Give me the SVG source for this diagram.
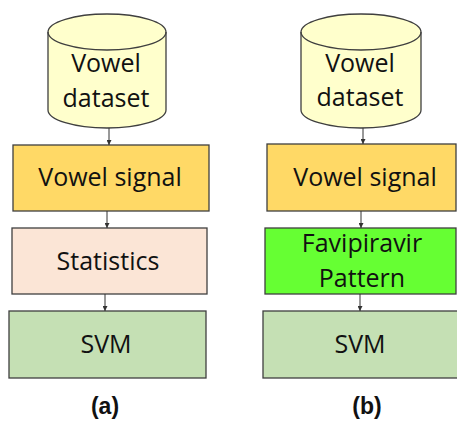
<svg xmlns="http://www.w3.org/2000/svg" width="457" height="421" viewBox="0 0 457 421">
<style>
.n{stroke:#3f3f3f;stroke-width:1.3}
.t{font-family:"Open Sans","Noto Sans",sans-serif;font-size:25px;fill:#111;text-anchor:middle}
.lab{font-family:"Liberation Sans",Arial,sans-serif;font-size:23px;font-weight:bold;fill:#111;text-anchor:middle}
.c{stroke:#333;stroke-width:1;fill:none;marker-end:url(#ah)}
</style>
<defs>
<marker id="ah" viewBox="0 0 6 6" refX="6" refY="3" markerWidth="5" markerHeight="5" orient="auto" markerUnits="userSpaceOnUse">
<path d="M0,0 L6,3 L0,6 Z" fill="#333"/>
</marker>
</defs>
<rect width="457" height="421" fill="#fff"/>
<g id="a-dataset">
<path class="n" fill="#FFFFCC" d="M48,32 L48,110 A59,18 0 0,0 166,110 L166,32 A59,18 0 0,0 48,32 Z"/>
<path class="n" fill="none" d="M48,32 A59,18 0 0,0 166,32"/>
<text class="t" x="106" y="72">Vowel</text>
<text class="t" x="106" y="107">dataset</text>
</g>
<g id="a-signal">
<rect class="n" x="13" y="145" width="196" height="66" fill="#FFD966"/>
<text class="t" x="110" y="186">Vowel signal</text>
</g>
<g id="a-stats">
<rect class="n" x="12" y="228" width="195" height="66" fill="#FBE5D6"/>
<text class="t" x="108" y="270">Statistics</text>
</g>
<g id="a-svm">
<rect class="n" x="9" y="311" width="197" height="67" fill="#C5E0B4"/>
<text class="t" x="106" y="353">SVM</text>
</g>
<g id="b-dataset">
<path class="n" fill="#FFFFCC" d="M301,32 L301,110 A60,18 0 0,0 421,110 L421,32 A60,18 0 0,0 301,32 Z"/>
<path class="n" fill="none" d="M301,32 A60,18 0 0,0 421,32"/>
<text class="t" x="360" y="72">Vowel</text>
<text class="t" x="360" y="106">dataset</text>
</g>
<g id="b-signal">
<rect class="n" x="267" y="144" width="189" height="67" fill="#FFD966"/>
<text class="t" x="365" y="186">Vowel signal</text>
</g>
<g id="b-pattern">
<rect class="n" x="265" y="228" width="191" height="66" fill="#66FF33"/>
<text class="t" x="362" y="252">Favipiravir</text>
<text class="t" x="362" y="287">Pattern</text>
</g>
<g id="b-svm">
<rect class="n" x="263" y="311" width="196" height="67" fill="#C5E0B4"/>
<text class="t" x="360" y="353">SVM</text>
</g>
<g id="connectors">
<line class="c" x1="109" y1="128" x2="109" y2="145"/>
<line class="c" x1="107" y1="211" x2="107" y2="228"/>
<line class="c" x1="105" y1="294" x2="105" y2="311"/>
<line class="c" x1="363" y1="128" x2="363" y2="144"/>
<line class="c" x1="361" y1="211" x2="361" y2="228"/>
<line class="c" x1="360" y1="294" x2="360" y2="311"/>
</g>
<text class="lab" x="105" y="414">(a)</text>
<text class="lab" x="367" y="414">(b)</text>
</svg>
